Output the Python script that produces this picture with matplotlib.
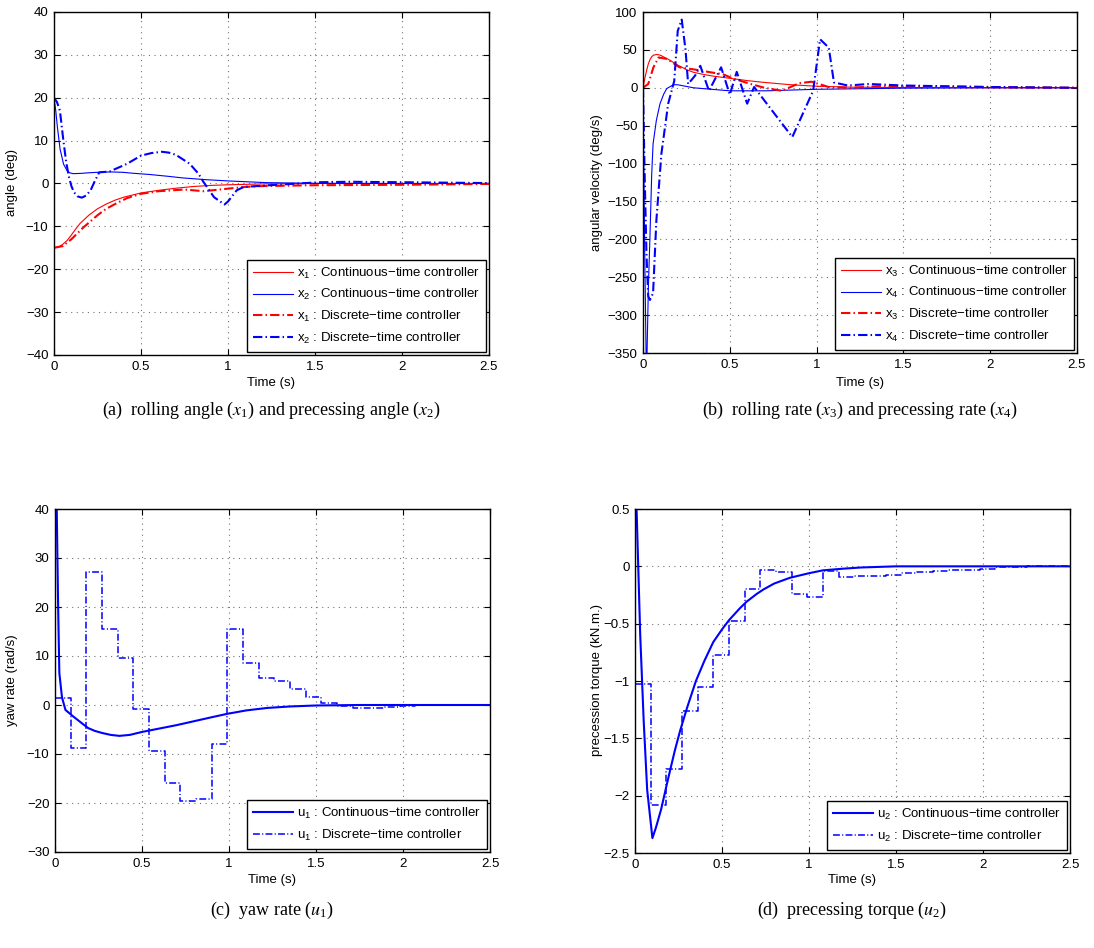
import numpy as np
import matplotlib.pyplot as plt

plt.rcParams['font.family'] = ['Liberation Sans', 'DejaVu Sans']
plt.rcParams['mathtext.fontset'] = 'stix'
plt.rcParams['mathtext.default'] = 'regular'

# ---- (a) rolling / precessing angle ----
t_x1c = [0, 0.03, 0.05, 0.075, 0.1, 0.125, 0.15, 0.2, 0.25, 0.3, 0.35, 0.4, 0.5, 0.6, 0.7, 0.8, 0.9,
         1.0, 1.2, 1.5, 2.0, 2.5]
x1_cont = [-15, -14.7, -14.2, -13.3, -12, -10.6, -9.3, -7.4, -5.9, -4.8, -3.9, -3.2, -2.2, -1.6, -1.1,
           -0.7, -0.45, -0.3, -0.1, 0, 0, 0]
t_x2c = [0, 0.01, 0.02, 0.035, 0.055, 0.075, 0.09, 0.11, 0.15, 0.2, 0.27, 0.33, 0.4, 0.45, 0.55, 0.65,
         0.74, 0.87, 1.0, 1.22, 1.5, 2.0, 2.5]
x2_cont = [20, 17, 13, 8, 4.5, 3, 2.5, 2.3, 2.35, 2.5, 2.65, 2.7, 2.6, 2.4, 2.1, 1.7, 1.3, 0.9, 0.6, 0.2,
           0.05, 0, 0]
t_x1d = [0, 0.05, 0.1, 0.17, 0.25, 0.3, 0.36, 0.42, 0.5, 0.6, 0.75, 0.86, 1.0, 1.1, 1.2, 1.5, 2.0, 2.5]
x1_disc = [-15, -14.6, -13, -10.2, -7.4, -5.9, -4.6, -3.4, -2.4, -1.8, -1.4, -1.8, -1.2, -0.8, -0.6,
           -0.4, -0.3, -0.1]
t_x2d = [0, 0.017, 0.034, 0.054, 0.07, 0.086, 0.1, 0.114, 0.135, 0.16, 0.185, 0.21, 0.235, 0.26, 0.32,
         0.42, 0.5, 0.56, 0.62, 0.66, 0.7, 0.78, 0.83, 0.86, 0.92, 0.98, 1.0, 1.05, 1.09, 1.24, 1.53,
         1.7, 2.0, 2.5]
x2_disc = [20, 19, 17, 10, 5, 1.5, -0.6, -2, -3, -3.3, -2.8, -1.6, 0.6, 2.6, 2.8,
           4.6, 6.5, 7.1, 7.4, 7.2, 6.7, 4.6, 2.3, 0.3, -3.2, -4.9, -4.2, -1.6, -0.8, -0.4, 0.3,
           0.4, 0.3, 0.1]

# ---- (b) rolling / precessing rate ----
t_x3c = [0, 0.01, 0.02, 0.03, 0.04, 0.05, 0.06, 0.08, 0.1, 0.125, 0.15, 0.2, 0.25, 0.29, 0.35, 0.4,
         0.5, 0.6, 0.68, 0.84, 1.0, 1.2, 1.5, 2.0, 2.5]
x3_cont = [0, 12, 22, 31, 37, 41, 43, 44, 43, 40, 37, 30, 24, 20.5, 17.5, 15.5, 12.5, 9.5, 7.5, 4.2,
           2, 0.8, 0.3, 0, 0]
t_x4c = [0, 0.01, 0.02, 0.025, 0.031, 0.04, 0.05, 0.058, 0.077, 0.098, 0.12, 0.137, 0.175, 0.2, 0.29,
         0.5, 0.71, 1.0, 1.5, 2.0, 2.5]
x4_cont = [0, -220, -390, -330, -263, -197, -115, -74, -43, -21, -8, -1, 4, 4, 0, -4, -4, -2, -0.5, 0, 0]
t_x3d = [0, 0.03, 0.06, 0.09, 0.14, 0.21, 0.3, 0.4, 0.46, 0.52, 0.55, 0.62, 0.7, 0.8, 0.9, 0.97,
         1.07, 1.2, 1.35, 1.5, 2.0, 2.5]
x3_disc = [0, 5, 27, 40, 38, 27, 24, 20, 18, 12, 10, 5, 0, -4, 6, 8, 1, 0, 2, 2, 1, 0]
t_x4d = [0, 0.01, 0.02, 0.03, 0.04, 0.058, 0.077, 0.106, 0.145, 0.18, 0.2, 0.223, 0.245, 0.26, 0.3,
         0.33, 0.38, 0.45, 0.5, 0.54, 0.6, 0.64, 0.86, 0.98, 1.02, 1.07, 1.1, 1.18, 1.3, 1.5, 2.0, 2.5]
x4_disc = [0, -120, -219, -275, -280, -271, -175, -87, -21, 9, 75, 90, 50, 5, 16,
           29, -4, 27, -9, 21, -21, 1, -65, -4, 64, 53, 7, 3, 5, 3, 1, 0]

# ---- (c) yaw rate ----
t_u1c = [0, 0.005, 0.01, 0.018, 0.025, 0.04, 0.06, 0.1, 0.15, 0.19, 0.23, 0.27, 0.32, 0.37, 0.43, 0.5,
         0.6, 0.7, 0.8, 0.9, 0.99, 1.1, 1.22, 1.35, 1.5, 1.75, 2.0, 2.5]
u1_cont = [60, 50, 40, 20, 6.5, 1.6, -1, -2.2, -3.6, -4.7, -5.3, -5.7, -6.1, -6.3, -6.1, -5.5,
           -4.8, -4.1, -3.3, -2.5, -1.8, -1.1, -0.6, -0.3, -0.1, 0, 0, 0]
t_steps = [0, 0.09, 0.18, 0.27, 0.36, 0.45, 0.54, 0.63, 0.72, 0.81, 0.90, 0.99, 1.08, 1.17, 1.26,
           1.35, 1.44, 1.53, 1.62, 1.71, 1.80, 1.89, 1.98, 2.07, 2.16, 2.25, 2.34, 2.43, 2.5]
u1_disc = [1.5, -8.8, 27.2, 15.6, 9.6, -0.8, -9.3, -16, -19.5, -19.2, -8, 15.5, 8.6, 5.6, 4.9,
           3.2, 1.6, 0.5, -0.2, -0.6, -0.6, -0.4, -0.2, 0, 0, 0, 0, 0, 0]

# ---- (d) precessing torque ----
t_u2c = [0, 0.01, 0.03, 0.05, 0.07, 0.1, 0.12, 0.15, 0.18, 0.2, 0.23, 0.26, 0.3, 0.35, 0.4, 0.45,
         0.5, 0.54, 0.6, 0.64, 0.7, 0.74, 0.8, 0.89, 1.0, 1.08, 1.2, 1.3, 1.5, 2.0, 2.5]
u2_cont = [0.8, 0.45, -0.6, -1.35, -1.95, -2.37, -2.28, -2.12, -1.92, -1.79, -1.6, -1.43, -1.23, -1.0,
           -0.82, -0.66, -0.55, -0.47, -0.37, -0.31, -0.24, -0.2, -0.15, -0.1, -0.06, -0.035, -0.02,
           -0.01, 0, 0, 0]
u2_disc = [-1.03, -2.08, -1.77, -1.26, -1.05, -0.77, -0.48, -0.2, -0.035, -0.05, -0.24, -0.27, -0.04,
           -0.09, -0.085, -0.08, -0.075, -0.06, -0.05, -0.04, -0.035, -0.03, -0.02, -0.01, -0.005, 0, 0, 0, 0]

W, H = 1094, 948
FS = 9.5
DASHDOT = (0, (4.5, 1.5, 0.7, 1.5))

fig = plt.figure(figsize=(W / 100, H / 100), dpi=100)


def make_axes(l, r, t, b):
    return fig.add_axes([l / W, 1 - b / H, (r - l) / W, (b - t) / H])


def style(ax, yticks, ylim):
    ax.set_xlim(0, 2.5)
    ax.set_ylim(*ylim)
    ax.set_xticks([0, 0.5, 1, 1.5, 2, 2.5])
    ax.set_xticklabels(['0', '0.5', '1', '1.5', '2', '2.5'])
    ax.set_yticks(yticks)
    ax.set_yticklabels(['{:g}'.format(v).replace('-', '\u2212') for v in yticks])
    ax.tick_params(direction='in', top=True, right=True, length=4, width=0.8, labelsize=FS, pad=4)
    ax.grid(True, linestyle=(0, (1, 4)), color='0.45', linewidth=0.8)
    ax.set_axisbelow(True)
    for s in ax.spines.values():
        s.set_linewidth(1.0)


def legend(ax):
    leg = ax.legend(loc='lower right', fontsize=FS, frameon=True, fancybox=False,
                    edgecolor='black', framealpha=1, handlelength=3.0, handletextpad=0.3,
                    labelspacing=0.5, borderpad=0.45, borderaxespad=0.25)
    leg.get_frame().set_linewidth(1.0)


# (a)
ax = make_axes(54, 489, 12, 355)
ax.plot(t_x1c, x1_cont, color='red', lw=0.8, label='x$_1$ : Continuous\u2212time controller')
ax.plot(t_x2c, x2_cont, color='blue', lw=0.8, label='x$_2$ : Continuous\u2212time controller')
ax.plot(t_x1d, x1_disc, color='red', lw=1.5, linestyle=DASHDOT, label='x$_1$ : Discrete\u2212time controller')
ax.plot(t_x2d, x2_disc, color='blue', lw=1.5, linestyle=DASHDOT, label='x$_2$ : Discrete\u2212time controller')
style(ax, list(range(-40, 41, 10)), (-40, 40))
legend(ax)

# (b)
ax = make_axes(643, 1077, 12, 353)
ax.plot(t_x3c, x3_cont, color='red', lw=0.8, label='x$_3$ : Continuous\u2212time controller')
ax.plot(t_x4c, x4_cont, color='blue', lw=0.8, label='x$_4$ : Continuous\u2212time controller')
ax.plot(t_x3d, x3_disc, color='red', lw=1.5, linestyle=DASHDOT, label='x$_3$ : Discrete\u2212time controller')
ax.plot(t_x4d, x4_disc, color='blue', lw=1.5, linestyle=DASHDOT, label='x$_4$ : Discrete\u2212time controller')
style(ax, list(range(-350, 101, 50)), (-350, 100))
legend(ax)

# (c)
ax = make_axes(55, 490, 509, 852)
ax.plot(t_u1c, u1_cont, color='blue', lw=1.5, label='u$_1$ : Continuous\u2212time controller')
ax.step(t_steps, u1_disc, where='post', color='blue', lw=1.1, linestyle=DASHDOT,
        label='u$_1$ : Discrete\u2212time controller')
style(ax, list(range(-30, 41, 10)), (-30, 40))
legend(ax)

# (d)
ax = make_axes(635, 1070, 509, 853)
ax.plot(t_u2c, u2_cont, color='blue', lw=1.5, label='u$_2$ : Continuous\u2212time controller')
ax.step(t_steps, u2_disc, where='post', color='blue', lw=1.1, linestyle=DASHDOT,
        label='u$_2$ : Discrete\u2212time controller')
style(ax, [-2.5, -2, -1.5, -1, -0.5, 0, 0.5], (-2.5, 0.5))
legend(ax)

# axis labels
for cx, cy in [(271, 383), (860, 383), (272, 880), (852, 880)]:
    fig.text(cx / W, 1 - cy / H, 'Time (s)', ha='center', va='center', fontsize=FS)
for cx, cy, txt in [(12, 183, 'angle (deg)'), (597, 183, 'angular velocity (deg/s)'),
                    (12, 680, 'yaw rate (rad/s)'), (597, 680, 'precession torque (kN.m.)')]:
    fig.text(cx / W, 1 - cy / H, txt, ha='center', va='center', rotation=90, fontsize=FS)

# captions
serif = ['Liberation Serif', 'DejaVu Serif']
caps = [(271, 410, r'(a)  rolling angle ($\mathit{x}_1$) and precessing angle ($\mathit{x}_2$)'),
        (860, 410, r'(b)  rolling rate ($\mathit{x}_3$) and precessing rate ($\mathit{x}_4$)'),
        (272, 910, r'(c)  yaw rate ($\mathit{u}_1$)'),
        (852, 910, r'(d)  precessing torque ($\mathit{u}_2$)')]
for cx, cy, txt in caps:
    fig.text(cx / W, 1 - cy / H, txt, ha='center', va='center', fontsize=13, family=serif)

fig.savefig('out.png', dpi=100)
